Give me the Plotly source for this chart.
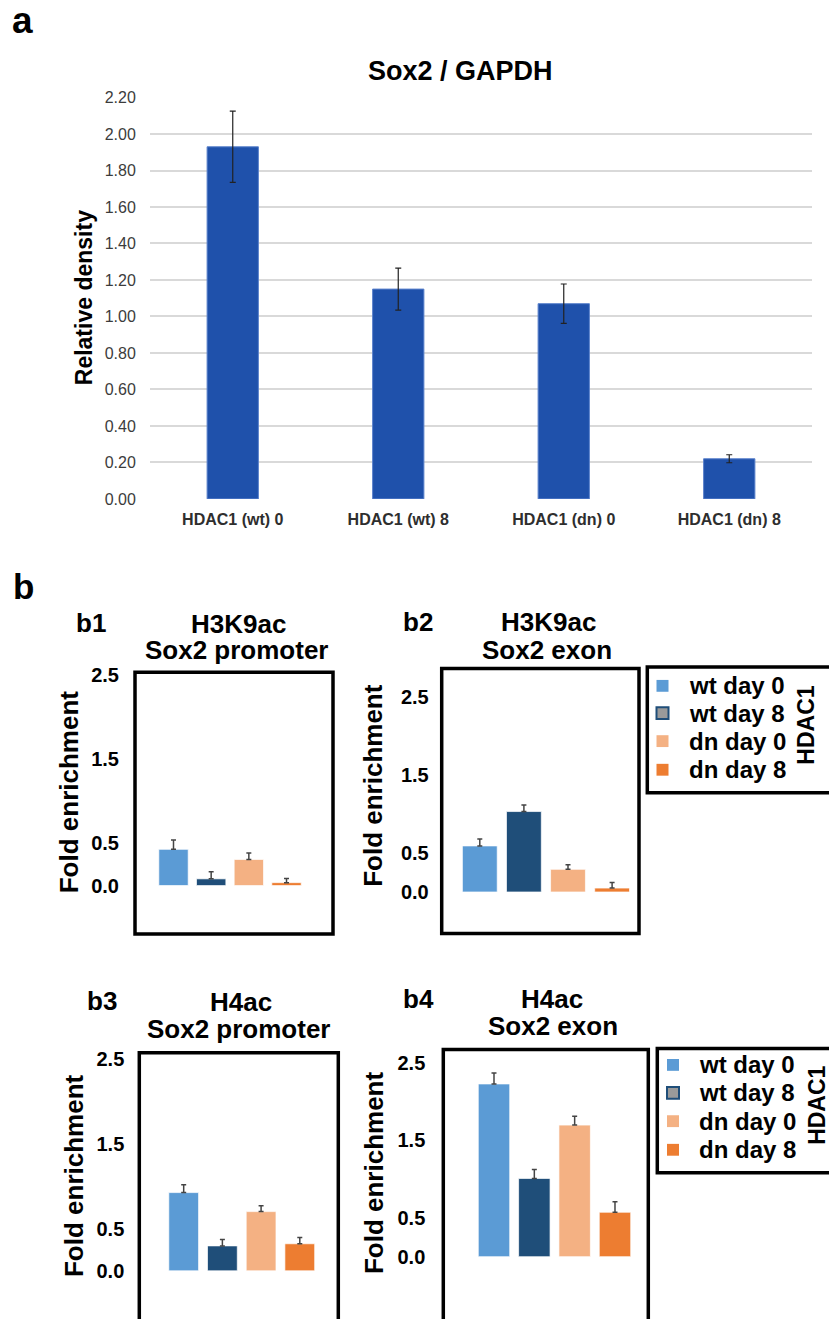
import plotly.graph_objects as go

W, H = 829, 1319
FONT = "Liberation Sans, Arial, sans-serif"

# ---------------- data ----------------
a_categories = ["HDAC1 (wt) 0", "HDAC1 (wt) 8", "HDAC1 (dn) 0", "HDAC1 (dn) 8"]
a_values = [1.93, 1.15, 1.07, 0.22]
a_errors = [0.195, 0.115, 0.108, 0.022]
a_yticks = [0.0, 0.2, 0.4, 0.6, 0.8, 1.0, 1.2, 1.4, 1.6, 1.8, 2.0, 2.2]

series = ["wt day 0", "wt day 8", "dn day 0", "dn day 8"]
series_colors = ["#5b9bd5", "#1f4e79", "#f4b183", "#ed7d31"]

b1_values = [0.43, 0.08, 0.31, 0.035]
b1_errors = [0.11, 0.085, 0.078, 0.05]
b2_values = [0.59, 1.03, 0.29, 0.05]
b2_errors = [0.09, 0.085, 0.06, 0.07]
b3_values = [0.925, 0.295, 0.70, 0.32]
b3_errors = [0.094, 0.074, 0.07, 0.075]
b4_values = [2.225, 1.008, 1.695, 0.572]
b4_errors = [0.14, 0.115, 0.115, 0.136]
b_yticks = [0.0, 0.5, 1.5, 2.5]
b_yticklabels = ["0.0", "0.5", "1.5", "2.5"]


def px(x):
    return x / W


def py(y):
    return 1 - y / H


fig = go.Figure()
annotations = []
shapes = []


def ann(text, x, y, size, angle=0, xanchor="center", color="black"):
    annotations.append(dict(
        text=text, x=px(x), y=py(y), xref="paper", yref="paper",
        xanchor=xanchor, yanchor="middle", showarrow=False,
        textangle=angle, font=dict(family=FONT, size=size, color=color, weight="bold")))


# ---------------- panel a ----------------
fig.add_trace(go.Bar(
    x=a_categories, y=a_values, width=0.31,
    marker=dict(color="#1f51ab", line=dict(color="#5b82cc", width=1)),
    error_y=dict(type="data", array=a_errors, color="#222222", thickness=1.2, width=3),
    xaxis="x", yaxis="y", showlegend=False))

layout_axes = {}
layout_axes["xaxis"] = dict(
    domain=[px(150), px(812)], anchor="y", type="category", range=[-0.5, 3.5],
    showline=False, showgrid=False, ticks="outside", ticklen=6, tickcolor="rgba(0,0,0,0)",
    tickfont=dict(family=FONT, size=16, color="#2e2e2e", weight="bold"), fixedrange=True)
layout_axes["yaxis"] = dict(
    domain=[py(497.3), py(90.7)], anchor="x", range=[0, 2.2],
    tickvals=a_yticks, tickformat=".2f", showgrid=True, gridcolor="#d9d9d9", gridwidth=1.5,
    zeroline=False, showline=False, ticks="outside", ticklen=10, tickcolor="rgba(0,0,0,0)",
    tickfont=dict(family=FONT, size=16, color="#3c3c3c"), fixedrange=True)

ann("a", 22, 13, 37)
ann("Sox2 / GAPDH", 461, 64, 27)
ann("Relative density", 84, 294, 23, angle=-90)

# ---------------- panel b ----------------
ann("b", 23, 586, 35)

panels = [
    dict(vals=b1_values, errs=b1_errors, xd=(135, 333), yd=(673, 938),
         xr=(-1.022, 4.234), yr=(-0.574, 2.532), w=0.78, tl=11, open_bottom=False,
         lab=("b1", 90.5, 623), t1=("H3K9ac", 238.3, 624), t2=("Sox2 promoter", 236.7, 650),
         yt=(68.5, 794)),
    dict(vals=b2_values, errs=b2_errors, xd=(441.7, 639), yd=(669, 937.7),
         xr=(-0.864, 3.61), yr=(-0.533, 2.863), w=0.79, tl=8, open_bottom=False,
         lab=("b2", 418, 622), t1=("H3K9ac", 548, 622.5), t2=("Sox2 exon", 546.7, 650),
         yt=(373, 788)),
    dict(vals=b3_values, errs=b3_errors, xd=(139.3, 338.3), yd=(1058.3, 1319),
         xr=(-1.147, 3.995), yr=(-0.463, 2.579), w=0.77, tl=10, open_bottom=True,
         lab=("b3", 102, 1006), t1=("H4ac", 241, 1006.5), t2=("Sox2 promoter", 238.5, 1034),
         yt=(73.3, 1183)),
    dict(vals=b4_values, errs=b4_errors, xd=(443.3, 648.3), yd=(1055, 1319),
         xr=(-1.257, 3.826), yr=(-0.687, 2.67), w=0.78, tl=13, open_bottom=True,
         lab=("b4", 418.3, 1004), t1=("H4ac", 551.7, 1004), t2=("Sox2 exon", 553.3, 1031),
         yt=(373.3, 1180)),
]

for i, p in enumerate(panels):
    n = i + 2
    xa, ya = "x%d" % n, "y%d" % n
    fig.add_trace(go.Bar(
        x=series, y=p["vals"], width=p["w"],
        marker=dict(color=series_colors, line=dict(color="rgba(255,255,255,0.7)", width=1)),
        error_y=dict(type="data", symmetric=False, array=p["errs"],
                     arrayminus=[0] * len(p["errs"]), color="#444444", thickness=1.5, width=2.5),
        xaxis=xa, yaxis=ya, showlegend=False))
    layout_axes["xaxis%d" % n] = dict(
        domain=[px(p["xd"][0]), px(p["xd"][1])], anchor=ya, type="category",
        range=list(p["xr"]), showticklabels=False, showgrid=False, showline=False,
        zeroline=False, ticks="", fixedrange=True)
    layout_axes["yaxis%d" % n] = dict(
        domain=[py(p["yd"][1]), py(p["yd"][0])], anchor=xa, range=list(p["yr"]),
        tickvals=b_yticks, ticktext=b_yticklabels, showgrid=False, zeroline=False,
        showline=False, ticks="outside", ticklen=p["tl"], tickcolor="rgba(0,0,0,0)",
        tickfont=dict(family=FONT, size=20, color="black", weight="bold"), fixedrange=True)
    shapes.append(dict(type="rect", xref="%s domain" % xa, yref="%s domain" % ya,
                       x0=0, x1=1, y0=(-0.2 if p["open_bottom"] else 0), y1=1,
                       line=dict(color="black", width=3.5), fillcolor="rgba(0,0,0,0)",
                       layer="above"))
    ann(p["lab"][0], p["lab"][1], p["lab"][2], 26)
    ann(p["t1"][0], p["t1"][1], p["t1"][2], 26)
    ann(p["t2"][0], p["t2"][1], p["t2"][2], 26)
    ann("Fold enrichment", p["yt"][0], p["yt"][1], 26, angle=-90)

# ---------------- legends (HDAC1) ----------------
legends = [
    dict(box=(647.3, 667.7, 795), items_y=[686.7, 714.3, 742.7, 771.7], sq_x=662.5,
         txt_x=686.7, hd=(806, 727)),
    dict(box=(657.3, 1054, 1180), items_y=[1070.7, 1099, 1127.7, 1156.7], sq_x=673,
         txt_x=697.3, hd=(817.5, 1111.7)),
]
for lg in legends:
    x0, y0, y1 = lg["box"]
    shapes.append(dict(type="rect", xref="paper", yref="paper", x0=px(x0), x1=px(W + 10),
                       y0=py(y1), y1=py(y0), line=dict(color="black", width=3.5),
                       fillcolor="rgba(0,0,0,0)"))
    for name, col, yy in zip(series, series_colors, lg["items_y"]):
        s = 6
        if name == "wt day 8":
            fill, lc, lw = "#9a9a9a", col, 2
        else:
            fill, lc, lw = col, col, 0
        shapes.append(dict(type="rect", xref="paper", yref="paper",
                           x0=px(lg["sq_x"] - s), x1=px(lg["sq_x"] + s),
                           y0=py(yy + s), y1=py(yy - s), fillcolor=fill,
                           line=dict(color=lc, width=lw)))
        ann(name, lg["txt_x"], yy, 24, xanchor="left")
    ann("HDAC1", lg["hd"][0], lg["hd"][1], 23, angle=-90)

fig.update_layout(
    width=W, height=H, margin=dict(l=0, r=0, t=0, b=0),
    paper_bgcolor="white", plot_bgcolor="white",
    font=dict(family=FONT), showlegend=False,
    annotations=annotations, shapes=shapes, **layout_axes)

fig.write_html("out.html", config={"displayModeBar": False},
               post_script="document.body.style.margin='0px';document.body.style.padding='0px';")
